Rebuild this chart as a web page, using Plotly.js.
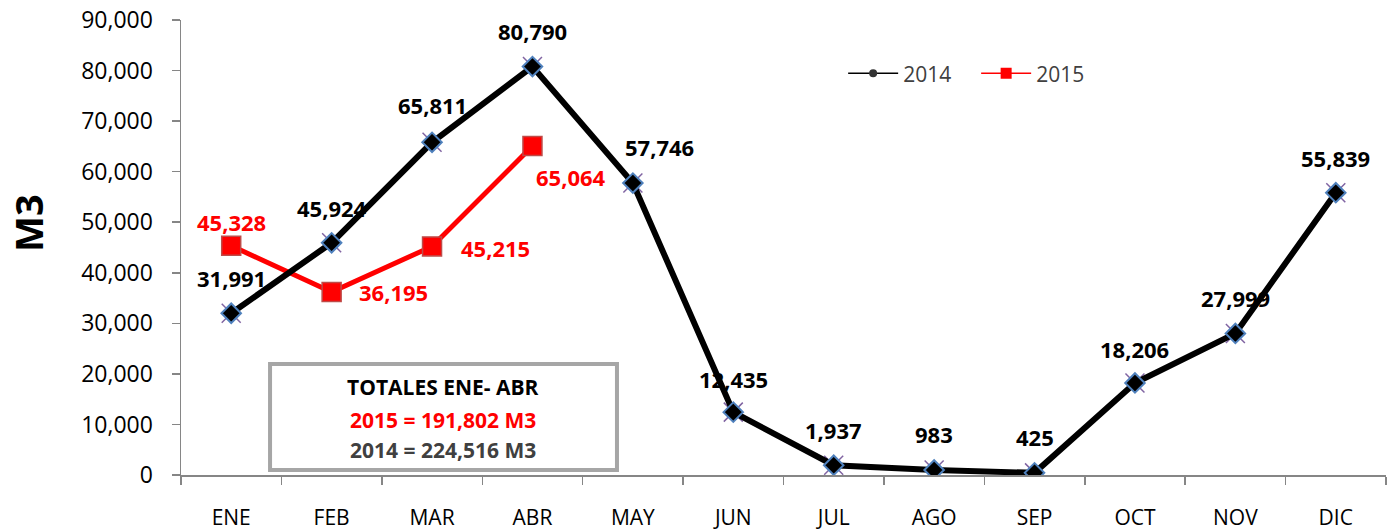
<!DOCTYPE html>
<html>
<head>
<meta charset="utf-8">
<script src="https://cdn.plot.ly/plotly-3.0.1.min.js"></script>
<style>html,body{margin:0;padding:0;background:#fff;}#chart{width:1394px;height:532px;}</style>
</head>
<body>
<div id="chart"></div>
<script>
// ---- data ----
var months = ["ENE","FEB","MAR","ABR","MAY","JUN","JUL","AGO","SEP","OCT","NOV","DIC"];
var months2015 = ["ENE","FEB","MAR","ABR"];
var values2014 = [31991,45924,65811,80790,57746,12435,1937,983,425,18206,27999,55839];
var values2015 = [45328,36195,45215,65064];
var yTicks = [0,10000,20000,30000,40000,50000,60000,70000,80000,90000];
var boxLines = ["TOTALES ENE- ABR","2015 = 191,802 M3","2014 = 224,516 M3"];

// ---- label offsets (style, pixels) ----
var shift2014x = [0,0,0,0,27,0,0,0,0,0,0,0];
var shift2014y = [35,35,37,36,36,33,35,36,36,34,35,35];
var shift2015x = [0,62,63,39];
var shift2015y = [24,0,-2,-31];

var FONT = "Open Sans, Noto Sans, sans-serif";
function fmt(v){ return v.toLocaleString("en-US"); }

var traces = [
  {x: months, y: values2014, type:"scatter", mode:"markers", showlegend:false, hoverinfo:"skip",
   marker:{symbol:"x-thin-open", size:19, color:"#8064a2", line:{color:"#8064a2", width:1.5}}},
  {x: months2015, y: values2015, type:"scatter", mode:"lines+markers", name:"2015", showlegend:false,
   line:{color:"#ff0000", width:5},
   marker:{symbol:"square", size:19, color:"#ff0000", line:{color:"#be4b48", width:1.5}}},
  {x: months, y: values2014, type:"scatter", mode:"lines+markers", name:"2014", showlegend:false,
   line:{color:"#000000", width:6},
   marker:{symbol:"diamond", size:15, color:"#000000", line:{color:"#4f81bd", width:2}}},
  // legend-only entries (thin lines, small markers as in the reference legend)
  {x:[null], y:[null], type:"scatter", mode:"lines+markers", name:"2014", legendrank:1,
   line:{color:"#000000", width:1.5}, marker:{symbol:"circle", size:8, color:"#333333"}},
  {x:[null], y:[null], type:"scatter", mode:"lines+markers", name:"2015", legendrank:2,
   line:{color:"#ff0000", width:1.5}, marker:{symbol:"square", size:11, color:"#ff0000"}}
];

var annotations = [];
values2014.forEach(function(v,i){
  annotations.push({x: months[i], y: v, xref:"x", yref:"y", text: fmt(v), showarrow:false,
    xanchor:"center", yanchor:"middle", xshift: shift2014x[i], yshift: shift2014y[i],
    font:{family:FONT, size:22, color:"#000000", weight:"bold"}});
});
values2015.forEach(function(v,i){
  annotations.push({x: months2015[i], y: v, xref:"x", yref:"y", text: fmt(v), showarrow:false,
    xanchor:"center", yanchor:"middle", xshift: shift2015x[i], yshift: shift2015y[i],
    font:{family:FONT, size:22, color:"#ff0000", weight:"bold"}});
});
// Y title
annotations.push({xref:"paper", yref:"paper", x:-0.1270, y:0.554, text:"M3", textangle:-90, showarrow:false,
  xanchor:"center", yanchor:"middle", font:{family:FONT, size:38, color:"#000000", weight:"bold"}});
// box text
var boxColors = ["#000000","#ff0000","#404040"];
var boxY = [0.193, 0.121, 0.055];
boxLines.forEach(function(t,i){
  annotations.push({xref:"paper", yref:"paper", x:0.2178, y:boxY[i], text:t, showarrow:false,
    xanchor:"center", yanchor:"middle", font:{family:FONT, size:21, color:boxColors[i], weight:"bold"}});
});

var layout = {
  width:1394, height:532,
  margin:{l:181, r:8, t:20, b:57},
  paper_bgcolor:"#ffffff", plot_bgcolor:"#ffffff",
  font:{family:FONT, color:"#000000"},
  showlegend:true,
  legend:{orientation:"h", x:0.5495, y:0.882, xanchor:"left", yanchor:"middle",
    itemwidth:50, entrywidth:68, entrywidthmode:"pixels",
    font:{family:FONT, size:21, color:"#404040"}, bgcolor:"rgba(0,0,0,0)"},
  xaxis:{type:"category", categoryorder:"array", categoryarray: months, range:[-0.5, 11.5],
    showline:true, linecolor:"#868686", linewidth:1.5, showgrid:false, zeroline:false,
    ticks:"outside", tickson:"boundaries", ticklen:8, tickcolor:"#868686", tickwidth:1.5,
    ticklabelstandoff:23, tickfont:{family:FONT, size:21, color:"#000000"}, fixedrange:true},
  yaxis:{range:[0, 90000], tickvals: yTicks, tickformat:",d",
    showline:true, linecolor:"#868686", linewidth:1.5, showgrid:false, zeroline:false,
    ticks:"outside", ticklen:8, tickcolor:"#868686", tickwidth:1.5,
    ticklabelstandoff:14, tickfont:{family:FONT, size:23, color:"#000000"}, fixedrange:true},
  shapes:[{type:"rect", xref:"paper", yref:"paper", x0:0.0739, x1:0.3618, y0:0.011, y1:0.244,
    line:{color:"#a6a6a6", width:4}, fillcolor:"#ffffff", layer:"above"}],
  annotations: annotations
};

Plotly.newPlot("chart", traces, layout, {displayModeBar:false, staticPlot:true});
</script>
</body>
</html>
